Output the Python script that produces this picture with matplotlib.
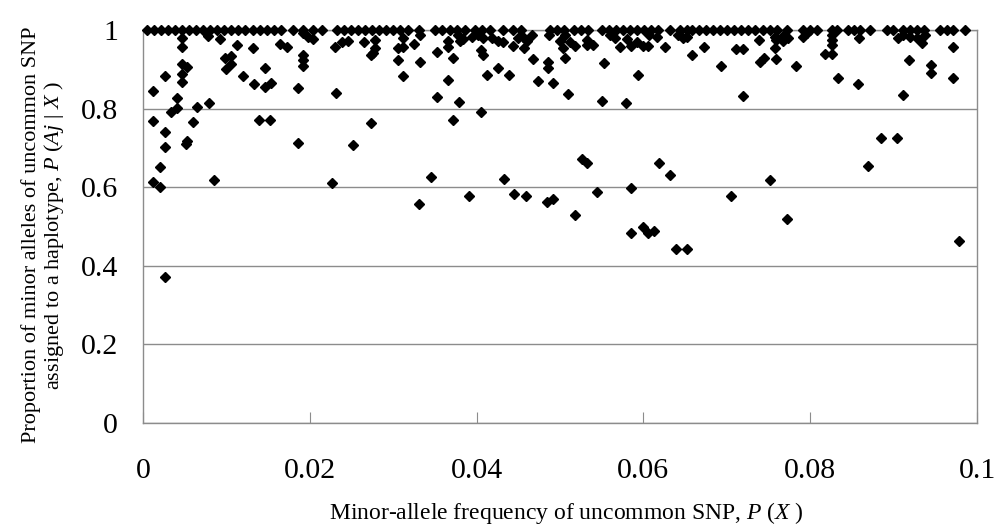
import matplotlib
matplotlib.use("Agg")
import matplotlib.pyplot as plt

plt.rcParams['font.family'] = ['Liberation Serif', 'DejaVu Serif']
plt.rcParams['mathtext.fontset'] = 'custom'
plt.rcParams['mathtext.rm'] = 'Liberation Serif'
plt.rcParams['mathtext.it'] = 'Liberation Serif:italic'

# --- DATA ---
# SNPs whose minor alleles all sit on one haplotype (proportion = 1)
top_x = [0.0005, 0.0013, 0.0022, 0.0030, 0.0038, 0.0047, 0.0055, 0.0064, 0.0072, 0.0080,
         0.0089, 0.0097, 0.0106, 0.0114, 0.0122, 0.0132, 0.0140, 0.0149, 0.0157, 0.0165,
         0.0180, 0.0192, 0.0204, 0.0215, 0.0233, 0.0241, 0.0249, 0.0258, 0.0266, 0.0275,
         0.0283, 0.0291, 0.0300, 0.0308, 0.0318, 0.0331, 0.0350, 0.0358, 0.0368, 0.0376,
         0.0386, 0.0398, 0.0406, 0.0416, 0.0432, 0.0444, 0.0453, 0.0488, 0.0496, 0.0505,
         0.0517, 0.0525, 0.0534, 0.0550, 0.0559, 0.0567, 0.0576, 0.0584, 0.0592, 0.0601,
         0.0609, 0.0617, 0.0632, 0.0644, 0.0652, 0.0658, 0.0667, 0.0675, 0.0683, 0.0692,
         0.0700, 0.0709, 0.0717, 0.0725, 0.0734, 0.0743, 0.0752, 0.0760, 0.0772, 0.0791,
         0.0800, 0.0808, 0.0826, 0.0832, 0.0845, 0.0852, 0.0860, 0.0872, 0.0892, 0.0899,
         0.0911, 0.0920, 0.0928, 0.0936, 0.0956, 0.0964, 0.0971, 0.0986]

# remaining SNPs
snp_x = [0.0047, 0.0047, 0.0078, 0.0092, 0.0113, 0.0132, 0.0164, 0.0173, 0.0192, 0.0192,
         0.0192, 0.0192, 0.0198, 0.0204, 0.0230, 0.0239, 0.0246, 0.0098, 0.0106, 0.0106,
         0.0100, 0.0047, 0.0053, 0.0047, 0.0047, 0.0026, 0.0012, 0.0120, 0.0146, 0.0133,
         0.0146, 0.0153, 0.0186, 0.0231, 0.0041, 0.0079, 0.0065, 0.0034, 0.0041, 0.0012,
         0.0060, 0.0139, 0.0152, 0.0026, 0.0053, 0.0052, 0.0026, 0.0186, 0.0252, 0.0020,
         0.0012, 0.0020, 0.0085, 0.0227, 0.0331, 0.0345, 0.0391, 0.0433, 0.0445, 0.0459,
         0.0484, 0.0492, 0.0026, 0.0526, 0.0532, 0.0619, 0.0632, 0.0869, 0.0752, 0.0544,
         0.0585, 0.0705, 0.0518, 0.0772, 0.0585, 0.0600, 0.0605, 0.0613, 0.0639, 0.0652,
         0.0978, 0.0265, 0.0278, 0.0278, 0.0276, 0.0273, 0.0306, 0.0312, 0.0312, 0.0306,
         0.0312, 0.0325, 0.0332, 0.0332, 0.0353, 0.0366, 0.0366, 0.0372, 0.0366, 0.0353,
         0.0379, 0.0372, 0.0405, 0.0273, 0.0378, 0.0384, 0.0380, 0.0394, 0.0405, 0.0408,
         0.0402, 0.0408, 0.0418, 0.0426, 0.0432, 0.0412, 0.0426, 0.0439, 0.0444, 0.0450,
         0.0456, 0.0460, 0.0466, 0.0457, 0.0468, 0.0474, 0.0486, 0.0486, 0.0492, 0.0487,
         0.0500, 0.0504, 0.0506, 0.0510, 0.0506, 0.0512, 0.0518, 0.0532, 0.0532, 0.0540,
         0.0560, 0.0566, 0.0572, 0.0580, 0.0585, 0.0592, 0.0600, 0.0605, 0.0607, 0.0616,
         0.0626, 0.0641, 0.0647, 0.0652, 0.0673, 0.0658, 0.0693, 0.0711, 0.0719, 0.0739,
         0.0740, 0.0745, 0.0759, 0.0759, 0.0553, 0.0593, 0.0550, 0.0579, 0.0719, 0.0758,
         0.0767, 0.0773, 0.0758, 0.0767, 0.0791, 0.0796, 0.0826, 0.0826, 0.0826, 0.0818,
         0.0826, 0.0859, 0.0783, 0.0833, 0.0857, 0.0905, 0.0911, 0.0920, 0.0928, 0.0934,
         0.0938, 0.0918, 0.0945, 0.0945, 0.0971, 0.0971, 0.0911, 0.0885, 0.0904]
snp_y = [0.980, 0.957, 0.985, 0.977, 0.962, 0.954, 0.964, 0.957, 0.936, 0.924,
         0.908, 0.992, 0.982, 0.977, 0.957, 0.969, 0.972, 0.929, 0.934, 0.913,
         0.901, 0.913, 0.906, 0.888, 0.868, 0.883, 0.845, 0.883, 0.903, 0.863,
         0.855, 0.865, 0.852, 0.840, 0.827, 0.814, 0.804, 0.791, 0.802, 0.768,
         0.766, 0.771, 0.771, 0.740, 0.718, 0.710, 0.702, 0.712, 0.707, 0.651,
         0.613, 0.600, 0.618, 0.611, 0.557, 0.626, 0.578, 0.621, 0.583, 0.578,
         0.562, 0.570, 0.371, 0.672, 0.662, 0.662, 0.631, 0.654, 0.618, 0.588,
         0.598, 0.578, 0.529, 0.519, 0.483, 0.499, 0.483, 0.489, 0.443, 0.443,
         0.463, 0.969, 0.975, 0.954, 0.941, 0.936, 0.954, 0.957, 0.980, 0.924,
         0.883, 0.964, 0.987, 0.918, 0.944, 0.972, 0.957, 0.929, 0.873, 0.830,
         0.817, 0.771, 0.791, 0.763, 0.987, 0.977, 0.972, 0.982, 0.949, 0.936,
         0.987, 0.980, 0.980, 0.972, 0.969, 0.885, 0.903, 0.885, 0.959, 0.980,
         0.982, 0.972, 0.987, 0.954, 0.926, 0.870, 0.918, 0.903, 0.865, 0.987,
         0.972, 0.954, 0.929, 0.837, 0.987, 0.969, 0.959, 0.975, 0.962, 0.962,
         0.987, 0.980, 0.957, 0.977, 0.959, 0.969, 0.959, 0.959, 0.987, 0.982,
         0.957, 0.987, 0.980, 0.982, 0.957, 0.936, 0.908, 0.952, 0.952, 0.975,
         0.918, 0.929, 0.926, 0.975, 0.916, 0.885, 0.819, 0.814, 0.832, 0.982,
         0.985, 0.980, 0.954, 0.972, 0.982, 0.992, 0.987, 0.975, 0.962, 0.939,
         0.939, 0.980, 0.908, 0.878, 0.863, 0.980, 0.987, 0.982, 0.980, 0.967,
         0.987, 0.924, 0.911, 0.891, 0.957, 0.878, 0.835, 0.725, 0.725]

x_ticks = [0, 0.02, 0.04, 0.06, 0.08, 0.1]
x_tick_labels = ['0', '0.02', '0.04', '0.06', '0.08', '0.1']
y_ticks = [0, 0.2, 0.4, 0.6, 0.8, 1.0]
y_tick_labels = ['0', '0.2', '0.4', '0.6', '0.8', '1']

# --- PLOT ---
fig = plt.figure(figsize=(9.97, 5.27), dpi=100)
ax = fig.add_axes([0.1434, 0.1973, 0.8366, 0.7457])

all_x = top_x + snp_x
all_y = [1.0] * len(top_x) + snp_y
ax.plot(all_x, all_y, linestyle='none', marker='D', markersize=5.5,
        color='black', clip_on=False, zorder=3)

ax.set_xlim(0, 0.1)
ax.set_ylim(0, 1)
ax.set_xticks(x_ticks)
ax.set_xticklabels(x_tick_labels)
ax.set_yticks(y_ticks)
ax.set_yticklabels(y_tick_labels)

ax.yaxis.grid(True, color='#8c8c8c', linewidth=1)
ax.set_axisbelow(True)
for sp in ax.spines.values():
    sp.set_color('#8c8c8c')
    sp.set_linewidth(1)

ax.tick_params(axis='x', direction='in', length=8, color='#8c8c8c',
               labelsize=21.5, pad=25)
ax.tick_params(axis='y', length=0, labelsize=21.5, pad=18)

ax.set_xlabel(r'Minor-allele frequency of uncommon SNP, $P$ ($X$ )', fontsize=17)
ax.xaxis.set_label_coords(0.508, -0.195)
ax.set_ylabel('Proportion of minor alleles of uncommon SNP\n'
              r'assigned to a haplotype, $P$ ($Aj$ | $X$ )',
              fontsize=16, linespacing=1.1)
ax.yaxis.set_label_coords(-0.092, 0.478)

fig.savefig('out.png', dpi=100)
